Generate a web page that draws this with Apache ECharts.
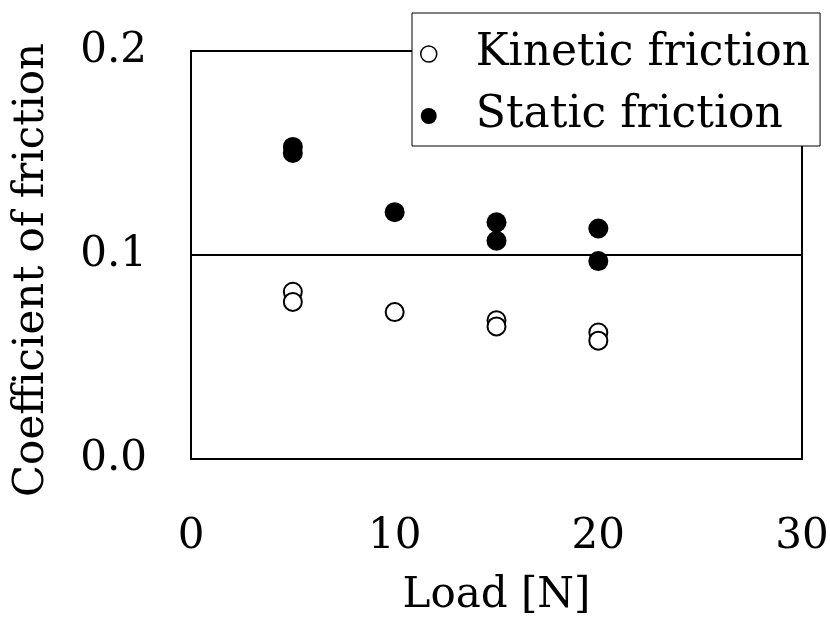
<!DOCTYPE html>
<html>
<head>
<meta charset="utf-8">
<script src="https://cdn.jsdelivr.net/npm/echarts@6/dist/echarts.min.js"></script>
<style>
	html, body { margin: 0; padding: 0; background: #fff; }
	#chart { width: 830px; height: 622px; }
</style>
</head>
<body>
<div id="chart"></div>
<script>
// 读图得到的数据
var kineticLoad = [5, 5, 10, 15, 15, 20, 20];
var kineticCoef = [0.082, 0.077, 0.072, 0.068, 0.065, 0.062, 0.058];
var staticLoad = [5, 5, 10, 15, 15, 20, 20];
var staticCoef = [0.153, 0.150, 0.121, 0.116, 0.107, 0.113, 0.097];
var xTicks = [0, 10, 20, 30];
var yTicks = [0, 0.1, 0.2];

var font = 'DejaVu Serif';
var textColor = '#000';

function pairs(xs, ys) {
	var out = [];
	for (var i = 0; i < xs.length; i++) out.push([xs[i], ys[i]]);
	return out;
}

var chart = echarts.init(document.getElementById('chart'));
var option = {
	backgroundColor: '#fff',
	animation: false,
	textStyle: { fontFamily: font, color: textColor },
	grid: {
		left: 191,
		right: 28,
		top: 51,
		bottom: 163,
		containLabel: false,
		outerBoundsMode: 'none',
		show: true,
		borderColor: '#000',
		borderWidth: 2,
		backgroundColor: 'transparent'
	},
	legend: {
		orient: 'vertical',
		left: 412,
		top: 13,
		padding: [19, 10, 8, 8],
		itemGap: 18,
		itemWidth: 16,
		itemHeight: 16,
		borderColor: '#000',
		borderWidth: 1,
		backgroundColor: '#fff',
		textStyle: { fontFamily: font, fontSize: 44, color: textColor, padding: [0, 0, 0, 34] },
		data: [{
			name: 'Kinetic friction',
			icon: 'circle',
			itemStyle: { color: '#fff', borderColor: '#000', borderWidth: 1.5, opacity: 1 }
		}, {
			name: 'Static friction',
			icon: 'circle',
			itemStyle: { color: '#000', borderColor: '#000', borderWidth: 0, opacity: 1 }
		}]
	},
	xAxis: {
		type: 'value',
		min: 0,
		max: 30,
		interval: 10,
		name: 'Load [N]',
		nameLocation: 'middle',
		nameGap: 116,
		nameMoveOverlap: false,
		nameTextStyle: { fontFamily: font, fontSize: 42, color: textColor },
		axisLine: { show: true, lineStyle: { color: '#000', width: 2 } },
		axisTick: { show: false },
		splitLine: { show: false },
		axisLabel: {
			margin: 57,
			fontFamily: font,
			fontSize: 42,
			color: textColor,
			formatter: function(v) { return xTicks.indexOf(v) >= 0 ? String(v) : ''; }
		}
	},
	yAxis: {
		type: 'value',
		min: 0,
		max: 0.2,
		interval: 0.1,
		name: 'Coefficient of friction',
		nameLocation: 'middle',
		nameGap: 138,
		nameMoveOverlap: false,
		nameTextStyle: { fontFamily: font, fontSize: 42, color: textColor, padding: [0, 30, 0, 0] },
		axisLine: { show: true, lineStyle: { color: '#000', width: 2 } },
		axisTick: { show: false },
		splitLine: { show: true, lineStyle: { color: '#000', width: 2 } },
		axisLabel: {
			margin: 44,
			fontFamily: font,
			fontSize: 42,
			color: textColor,
			formatter: function(v) {
				for (var i = 0; i < yTicks.length; i++) {
					if (Math.abs(yTicks[i] - v) < 1e-9) return yTicks[i].toFixed(1);
				}
				return '';
			}
		}
	},
	series: [{
		name: 'Kinetic friction',
		type: 'scatter',
		symbol: 'circle',
		symbolSize: 18,
		itemStyle: { color: '#fff', borderColor: '#000', borderWidth: 2, opacity: 1 },
		data: pairs(kineticLoad, kineticCoef)
	}, {
		name: 'Static friction',
		type: 'scatter',
		symbol: 'circle',
		symbolSize: 20,
		itemStyle: { color: '#000', borderColor: '#000', borderWidth: 0, opacity: 1 },
		data: pairs(staticLoad, staticCoef)
	}]
};
chart.setOption(option);
</script>
</body>
</html>
